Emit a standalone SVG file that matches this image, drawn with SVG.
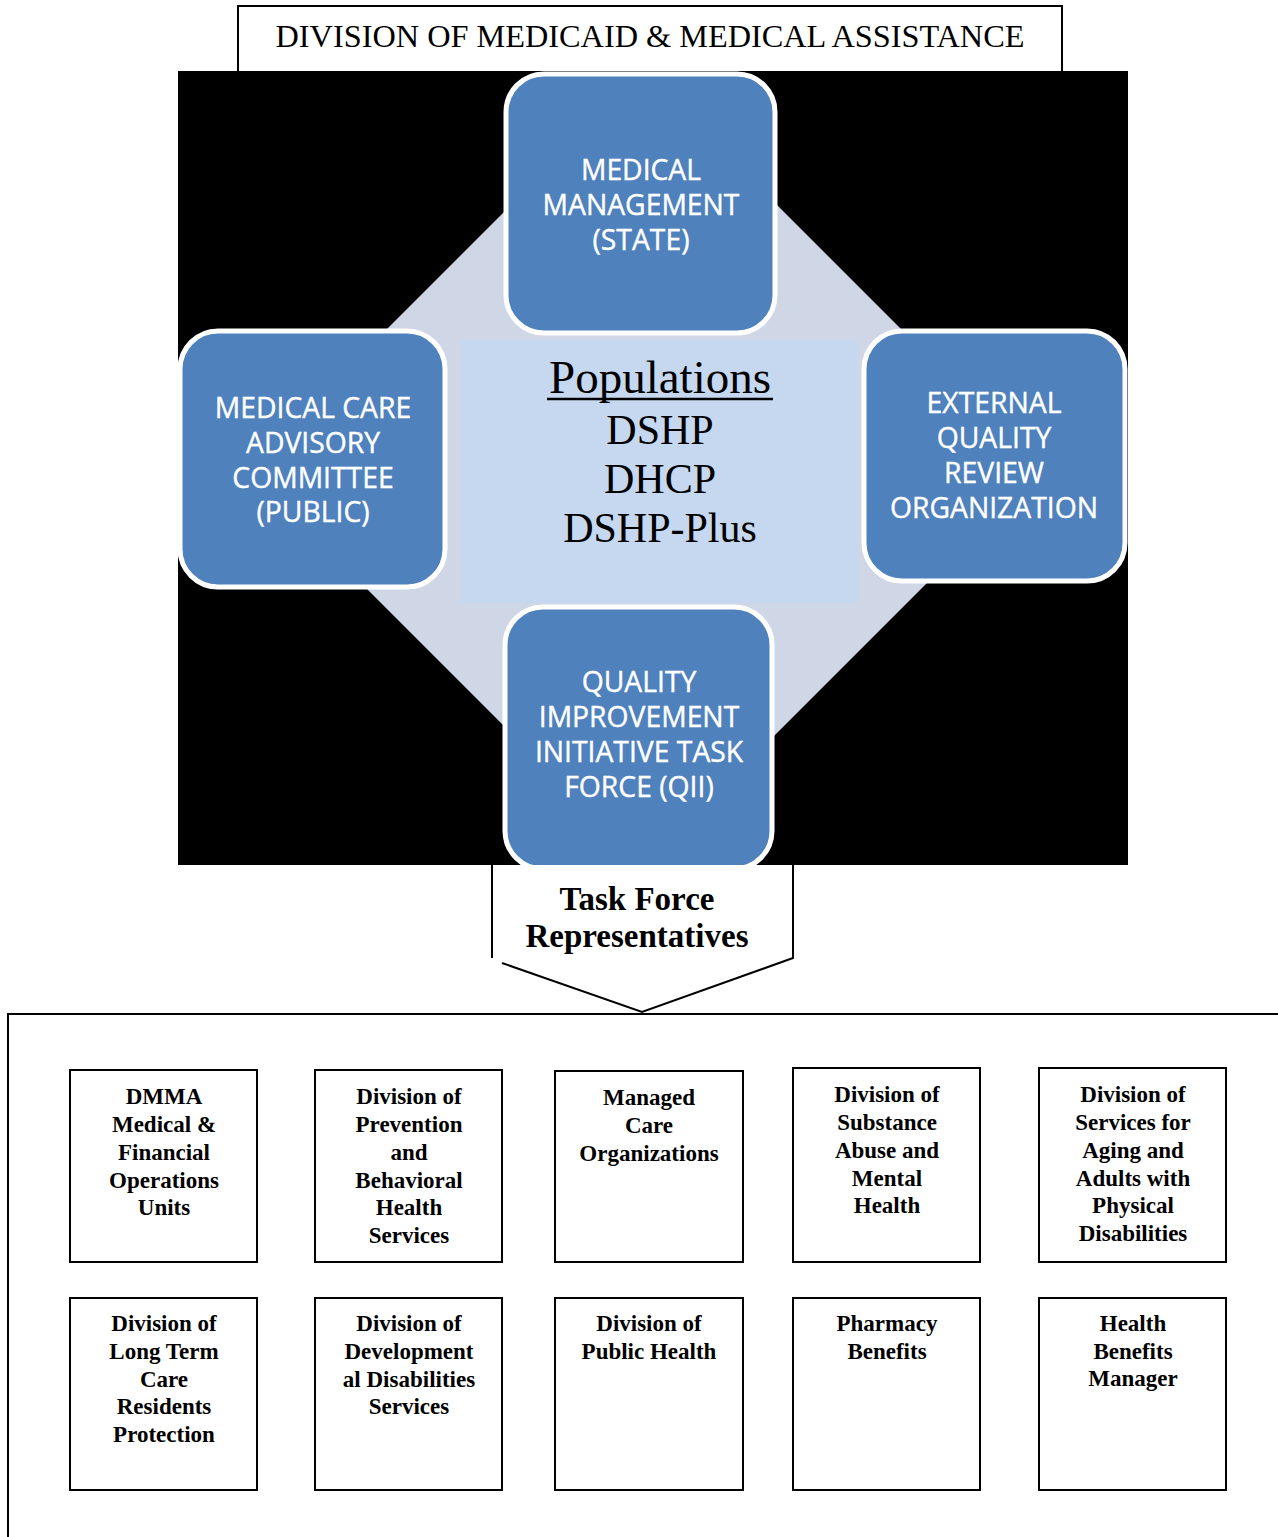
<svg xmlns="http://www.w3.org/2000/svg" width="1278" height="1537" viewBox="0 0 1278 1537">
<style>
.frame{fill:#fff;stroke:#000;stroke-width:2}
.blue{fill:#4f81bd;stroke:#fff;stroke-width:5}
.bt{font-family:"Open Sans","Noto Sans",sans-serif;font-size:28.3px;fill:#fff;text-anchor:middle;stroke:#fff;stroke-width:0.4}
.pop{font-family:"Liberation Serif",serif;fill:#000;text-anchor:middle}
.box{fill:#fff;stroke:#000;stroke-width:2}
.st{font-family:"Liberation Serif",serif;font-weight:bold;font-size:23px;fill:#000;text-anchor:middle}
</style>
<rect width="1278" height="1537" fill="#fff"/>
<g id="title">
<rect class="frame" x="238" y="6" width="824" height="80"/>
<text x="650" y="47" font-family="Liberation Serif,serif" font-size="32.3" text-anchor="middle">DIVISION OF MEDICAID &amp; MEDICAL ASSISTANCE</text>
</g>
<g id="background">
<rect x="178" y="71" width="950" height="794" fill="#000"/>
<polygon points="644,72 1041,469 644,866 247,469" fill="#cfd6e6"/>
</g>
<g id="populations">
<rect x="461" y="340" width="397" height="263" fill="#c6d8f0"/>
<text class="pop" x="660" y="393" font-size="47">Populations</text>
<line x1="547" y1="399" x2="773" y2="399" stroke="#000" stroke-width="2.5"/>
<text class="pop" x="660" y="444" font-size="42">DSHP</text>
<text class="pop" x="660" y="493" font-size="42">DHCP</text>
<text class="pop" x="660" y="542" font-size="42">DSHP-Plus</text>
</g>
<g id="medical-management">
<rect class="blue" x="506" y="74" width="269" height="259" rx="38"/>
<text class="bt" x="641" y="180">MEDICAL</text>
<text class="bt" x="641" y="215">MANAGEMENT</text>
<text class="bt" x="641" y="250">(STATE)</text>
</g>
<g id="mcac">
<rect class="blue" x="180" y="331" width="265" height="256" rx="38"/>
<text class="bt" x="313" y="418">MEDICAL CARE</text>
<text class="bt" x="313" y="453">ADVISORY</text>
<text class="bt" x="313" y="488">COMMITTEE</text>
<text class="bt" x="313" y="522">(PUBLIC)</text>
</g>
<g id="eqro">
<rect class="blue" x="864" y="331" width="261" height="250" rx="38"/>
<text class="bt" x="994" y="413">EXTERNAL</text>
<text class="bt" x="994" y="448">QUALITY</text>
<text class="bt" x="994" y="483">REVIEW</text>
<text class="bt" x="994" y="518">ORGANIZATION</text>
</g>
<g id="qii">
<rect class="blue" x="505" y="607" width="267" height="262" rx="38"/>
<rect x="490" y="865" width="300" height="10" fill="#fff"/>
<text class="bt" x="639" y="692">QUALITY</text>
<text class="bt" x="639" y="727">IMPROVEMENT</text>
<text class="bt" x="639" y="762">INITIATIVE TASK</text>
<text class="bt" x="639" y="797">FORCE (QII)</text>
</g>
<g id="connectors">
<path d="M492,865 L492,958 M502,963 L642,1012 L793,958 L793,865" fill="none" stroke="#000" stroke-width="2"/>
</g>
<g id="task-force">
<text x="637" y="910" font-family="Liberation Serif,serif" font-weight="bold" font-size="33" text-anchor="middle">Task Force</text>
<text x="637" y="947" font-family="Liberation Serif,serif" font-weight="bold" font-size="33" text-anchor="middle">Representatives</text>
</g>
<g id="representatives">
<rect x="8" y="1014" width="1280" height="540" fill="none" stroke="#000" stroke-width="2"/>
</g>
<g id="dmma">
<rect class="box" x="70" y="1070" width="187" height="192"/>
<text class="st" x="164" y="1104">DMMA</text>
<text class="st" x="164" y="1132">Medical &amp;</text>
<text class="st" x="164" y="1160">Financial</text>
<text class="st" x="164" y="1188">Operations</text>
<text class="st" x="164" y="1215">Units</text>
</g>
<g id="dpbhs">
<rect class="box" x="315" y="1070" width="187" height="192"/>
<text class="st" x="409" y="1104">Division of</text>
<text class="st" x="409" y="1132">Prevention</text>
<text class="st" x="409" y="1160">and</text>
<text class="st" x="409" y="1188">Behavioral</text>
<text class="st" x="409" y="1215">Health</text>
<text class="st" x="409" y="1243">Services</text>
</g>
<g id="mco">
<rect class="box" x="555" y="1071" width="188" height="191"/>
<text class="st" x="649" y="1105">Managed</text>
<text class="st" x="649" y="1133">Care</text>
<text class="st" x="649" y="1161">Organizations</text>
</g>
<g id="dsamh">
<rect class="box" x="793" y="1068" width="187" height="194"/>
<text class="st" x="887" y="1102">Division of</text>
<text class="st" x="887" y="1130">Substance</text>
<text class="st" x="887" y="1158">Abuse and</text>
<text class="st" x="887" y="1186">Mental</text>
<text class="st" x="887" y="1213">Health</text>
</g>
<g id="dsaapd">
<rect class="box" x="1039" y="1068" width="187" height="194"/>
<text class="st" x="1133" y="1102">Division of</text>
<text class="st" x="1133" y="1130">Services for</text>
<text class="st" x="1133" y="1158">Aging and</text>
<text class="st" x="1133" y="1186">Adults with</text>
<text class="st" x="1133" y="1213">Physical</text>
<text class="st" x="1133" y="1241">Disabilities</text>
</g>
<g id="dltcrp">
<rect class="box" x="70" y="1298" width="187" height="192"/>
<text class="st" x="164" y="1331">Division of</text>
<text class="st" x="164" y="1359">Long Term</text>
<text class="st" x="164" y="1387">Care</text>
<text class="st" x="164" y="1414">Residents</text>
<text class="st" x="164" y="1442">Protection</text>
</g>
<g id="ddds">
<rect class="box" x="315" y="1298" width="187" height="192"/>
<text class="st" x="409" y="1331">Division of</text>
<text class="st" x="409" y="1359">Development</text>
<text class="st" x="409" y="1387">al Disabilities</text>
<text class="st" x="409" y="1414">Services</text>
</g>
<g id="dph">
<rect class="box" x="555" y="1298" width="188" height="192"/>
<text class="st" x="649" y="1331">Division of</text>
<text class="st" x="649" y="1359">Public Health</text>
</g>
<g id="pharmacy">
<rect class="box" x="793" y="1298" width="187" height="192"/>
<text class="st" x="887" y="1331">Pharmacy</text>
<text class="st" x="887" y="1359">Benefits</text>
</g>
<g id="hbm">
<rect class="box" x="1039" y="1298" width="187" height="192"/>
<text class="st" x="1133" y="1331">Health</text>
<text class="st" x="1133" y="1359">Benefits</text>
<text class="st" x="1133" y="1386">Manager</text>
</g>
</svg>
